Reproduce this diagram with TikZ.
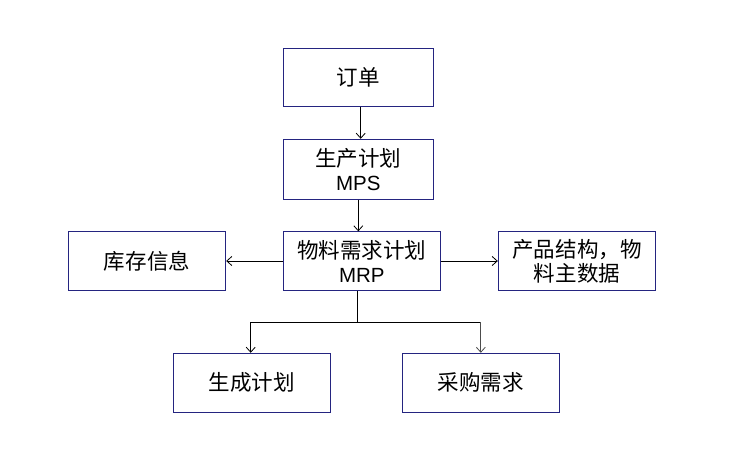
\documentclass[tikz,border=0pt]{standalone}
\usepackage{fontspec}
\setmainfont{Liberation Sans}
\newfontfamily\cjk{Noto Sans CJK SC}[Scale=1.05]
\usetikzlibrary{arrows.meta,calc}
\definecolor{boxline}{RGB}{36,36,128}
\tikzset{
  box/.style={draw=boxline, line width=1pt, inner sep=0pt, align=center,
    font=\fontsize{20.5}{24}\selectfont, text=black},
  conn/.style={draw=black, line width=0.8pt},
  arr/.style={conn, -{Straight Barb[length=5pt,width=9pt]}}
}
\begin{document}
\begin{tikzpicture}[x=1pt,y=-1pt]
\useasboundingbox (0,0) rectangle (731,457);
\node[box, minimum width=150pt, minimum height=58.4pt] (a) at (358.3,77.5) {\cjk 订单};
\node[box, minimum width=150pt, minimum height=60pt] (b) at (358.3,169.3) {{\cjk 生产计划}\\MPS};
\node[box, minimum width=157pt, minimum height=58.3pt] (c) at (361.8,261) {{\cjk 物料需求计划}\\MRP};
\node[box, minimum width=157.4pt, minimum height=58.3pt] (d) at (147,261) {\cjk 库存信息};
\node[box, minimum width=157.4pt, minimum height=58.3pt] (e) at (577,261) {\cjk 产品结构，物\\\cjk 料主数据};
\node[box, minimum width=157pt, minimum height=59pt] (f) at (251.8,382.8) {\cjk 生成计划};
\node[box, minimum width=157pt, minimum height=59pt] (g) at (480.8,382.8) {\cjk 采购需求};
\coordinate (j) at (357.7,322.3);
\draw[arr] ([xshift=2.4pt]a.south) -- ([xshift=2.4pt]a.south |- b.north);
\draw[arr] (b.south) -- (b.south |- c.north);
\draw[arr] (c.west) -- (d.east);
\draw[arr] (c.east) -- (e.west);
\draw[conn] (c.south -| j) -- (j);
\draw[arr] (j) -| ([xshift=-1.1pt]f.north);
\draw[conn] (j) -- (j -| g.north);
\draw[arr, draw=black!70] (j -| g.north) -- (g.north);
\end{tikzpicture}
\end{document}
